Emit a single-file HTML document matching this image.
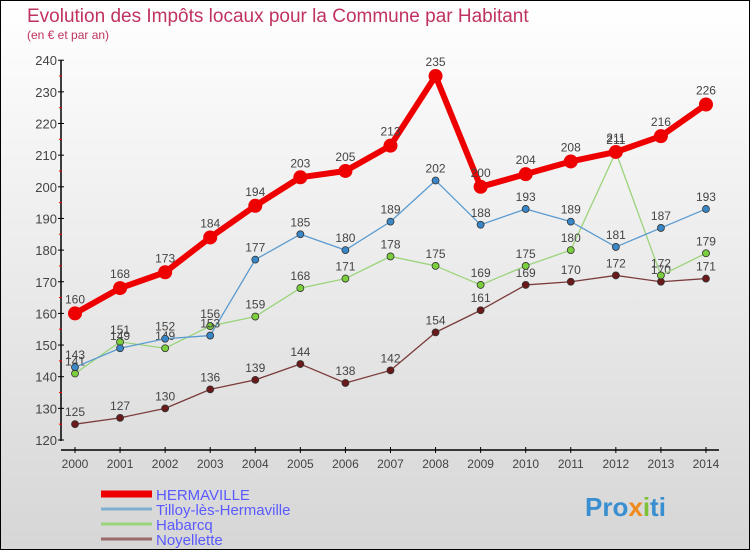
<!DOCTYPE html>
<html><head><meta charset="utf-8"><style>
body{margin:0}
#c{width:748px;height:548px;border:1px solid #000;background:linear-gradient(#ffffff,#d6d6d6);position:relative;font-family:"Liberation Sans",sans-serif;overflow:hidden}
</style></head><body>
<div id="c">
<svg id="s" width="748" height="548" xmlns="http://www.w3.org/2000/svg">
<text x="26" y="21" font-size="19" fill="#c0335f">Evolution des Impôts locaux pour la Commune par Habitant</text>
<text x="26" y="38" font-size="12" fill="#c0335f">(en € et par an)</text>
<g id="axes"></g><g id="series"></g><g id="legend"></g>
<text x="584" y="515" font-size="26" font-weight="bold" fill="#3a8fd0">Pro<tspan fill="#f08a1c">x</tspan><tspan fill="#7fc23a">i</tspan>ti</text>
</svg>
</div>
<script>
const years=[2000,2001,2002,2003,2004,2005,2006,2007,2008,2009,2010,2011,2012,2013,2014];
const hermaville=[160,168,173,184,194,203,205,213,235,200,204,208,211,216,226];
const tilloy=[143,149,152,153,177,185,180,189,202,188,193,189,181,187,193];
const habarcq=[141,151,149,156,159,168,171,178,175,169,175,180,211,172,179];
const noyellette=[125,127,130,136,139,144,138,142,154,161,169,170,172,170,171];
const yTicks=[120,130,140,150,160,170,180,190,200,210,220,230,240];
const seriesNames=["HERMAVILLE","Tilloy-lès-Hermaville","Habarcq","Noyellette"];
const NS="http://www.w3.org/2000/svg";
function X(i){return 74+i*45.07;}
function Y(v){return 439+(120-v)*3.165;}
function mk(t,a,p){const e=document.createElementNS(NS,t);for(const k in a)e.setAttribute(k,a[k]);p.appendChild(e);return e;}
const ax=document.getElementById('axes');
let l=mk('line',{x1:60,y1:59,x2:60,y2:440,stroke:'#000','stroke-width':1.5},ax);


l=mk('line',{x1:60,y1:449,x2:718,y2:449,stroke:'#000','stroke-width':1.5},ax);


yTicks.forEach(v=>{
 mk('line',{x1:57,x2:63,y1:Y(v),y2:Y(v),stroke:'#000'},ax);
 if(v<240)mk('line',{x1:58,x2:61,y1:Y(v+5),y2:Y(v+5),stroke:'#f00'},ax);
 const t=mk('text',{x:56,y:Y(v)+5,'text-anchor':'end','font-size':13,fill:'#444'},ax);t.textContent=v;
 
 
});
years.forEach((y,i)=>{
 mk('line',{x1:X(i),x2:X(i),y1:446,y2:452,stroke:'#000'},ax);
 const t=mk('text',{x:X(i),y:467,'text-anchor':'middle','font-size':12,fill:'#444'},ax);t.textContent=y;
 
 
});
const sg=document.getElementById('series');
function draw(data,color,dot,w,r,name){
 const g=mk('g',{},sg);
 
 
 mk('polyline',{points:data.map((v,i)=>X(i)+','+Y(v)).join(' '),fill:'none',stroke:color,'stroke-width':w,'stroke-linejoin':'round'},g);
 data.forEach((v,i)=>{
  const c=mk('circle',{cx:X(i),cy:Y(v),r:r,fill:dot,stroke:'#333','stroke-width':r>5?0:0.8},g);
  
  
  const t=mk('text',{x:X(i),y:Y(v)-(r>5?10:8),'text-anchor':'middle','font-size':12,fill:'#444'},g);t.textContent=v;
 });
}
draw(noyellette,'#7a3b3b','#6a1a1a',1.3,3.5,'series-noyellette');
draw(habarcq,'#9ad47a','#7ccf3c',1.3,3.5,'series-habarcq');
draw(tilloy,'#5b9bd0','#3a87c8',1.3,3.5,'series-tilloy');
draw(hermaville,'#ee0000','#ee0000',6,7,'series-hermaville');
const lg=document.getElementById('legend');
const lc=['#ee0000','#7fafd0','#9ad47a','#9a6a6a'],lw=[7,3,3,3];
seriesNames.forEach((n,i)=>{
 const y=493+i*15;
 const g=mk('g',{},lg);
 
 
 mk('line',{x1:100,x2:151,y1:y,y2:y,stroke:lc[i],'stroke-width':lw[i]},g);
 const t=mk('text',{x:155,y:y+6,'font-size':15,fill:'#5a5aff'},g);t.textContent=n;
});
</script>
</body></html>
